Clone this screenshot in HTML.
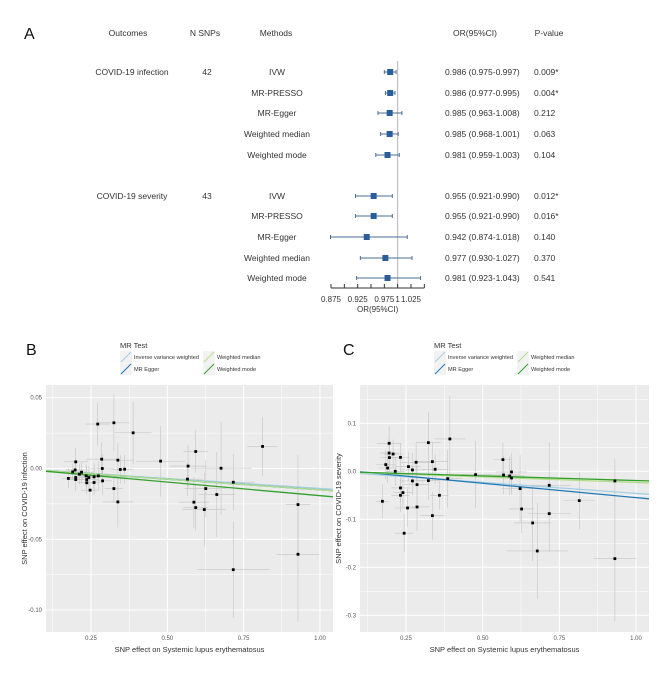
<!DOCTYPE html>
<html><head><meta charset="utf-8">
<style>
body{margin:0;background:#fff;}
svg{display:block;font-family:"Liberation Sans",Arial,sans-serif;}
</style></head>
<body>
<svg id="fig" width="666" height="676" viewBox="0 0 666 676">
<g id="panelA"></g>
<g id="panelB"></g>
<g id="panelC"></g>
</svg>
<script>
// ---------- Forest plot data ----------
const methods = ["IVW","MR-PRESSO","MR-Egger","Weighted median","Weighted mode"];
const outcomes = ["COVID-19 infection","COVID-19 severity"];
const nsnps = [42,43];
const orInf = [0.986,0.986,0.985,0.985,0.981];
const loInf = [0.975,0.977,0.963,0.968,0.959];
const hiInf = [0.997,0.995,1.008,1.001,1.003];
const pInf = ["0.009*","0.004*","0.212","0.063","0.104"];
const orSev = [0.955,0.955,0.942,0.977,0.981];
const loSev = [0.921,0.921,0.874,0.930,0.923];
const hiSev = [0.990,0.990,1.018,1.027,1.043];
const pSev = ["0.012*","0.016*","0.140","0.370","0.541"];
const forestTicks = [0.875,0.9,0.925,0.95,0.975,1,1.025,1.05];
const forestTickLabels = ["0.875","","0.925","","0.975","1","1.025",""];

// ---------- Scatter B data (infection) ----------
const bx = [0.176,0.19,0.198,0.20,0.20,0.20,0.212,0.219,0.234,0.236,0.236,0.243,0.247,0.26,0.26,0.274,0.272,0.285,0.287,0.288,0.325,0.325,0.338,0.338,0.346,0.36,0.388,0.478,0.566,0.568,0.593,0.587,0.593,0.621,0.626,0.662,0.676,0.716,0.716,0.812,0.928,0.928];
const by = [-0.007,-0.0024,-0.001,0.0047,-0.0064,-0.0078,-0.004,-0.0026,-0.0052,-0.0078,-0.0101,-0.0064,-0.0153,-0.0059,-0.0099,-0.0052,0.0314,0.0066,0.0,-0.0087,0.0323,-0.0142,0.0059,-0.0236,-0.0007,-0.0005,0.0252,0.0052,-0.0075,0.0017,0.012,-0.0238,-0.0276,-0.029,-0.0142,-0.0184,0.0002,-0.0097,-0.0715,0.0156,-0.0255,-0.0606];
const bxe = [0.02,0.04,0.03,0.04,0.03,0.03,0.03,0.04,0.03,0.04,0.03,0.03,0.03,0.04,0.03,0.04,0.04,0.05,0.04,0.03,0.05,0.03,0.05,0.05,0.03,0.03,0.06,0.08,0.05,0.06,0.04,0.05,0.04,0.07,0.07,0.06,0.1,0.07,0.12,0.05,0.04,0.07];
const bye = [0.007,0.006,0.007,0.01,0.008,0.008,0.007,0.007,0.008,0.009,0.008,0.008,0.01,0.01,0.009,0.01,0.015,0.012,0.01,0.01,0.02,0.01,0.012,0.018,0.01,0.01,0.022,0.025,0.012,0.015,0.015,0.018,0.016,0.026,0.02,0.03,0.033,0.02,0.034,0.021,0.035,0.048];
const bSlopes = [-0.0141,-0.0151,-0.0151,-0.0192];
const bIntercepts = [0,0,0,0];
const bYTicks = [0.05,0,-0.05,-0.10];
const bYTickLabels = ["0.05","0.00","-0.05","-0.10"];

// ---------- Scatter C data (severity) ----------
const cx = [0.173,0.184,0.190,0.195,0.195,0.196,0.208,0.215,0.232,0.232,0.232,0.24,0.244,0.255,0.258,0.271,0.271,0.283,0.286,0.286,0.323,0.323,0.336,0.336,0.345,0.359,0.386,0.393,0.477,0.566,0.568,0.588,0.594,0.594,0.622,0.627,0.663,0.678,0.717,0.717,0.815,0.931,0.931];
const cy = [-0.0625,0.0139,0.0069,0.0583,0.038,0.0285,0.036,0.0,0.029,-0.0347,-0.05,-0.0444,-0.129,-0.0764,0.0097,0.0028,-0.0201,0.0188,-0.0278,-0.0743,0.0597,-0.0194,0.0201,-0.0924,0.0042,-0.05,-0.0153,0.0674,-0.0069,0.0243,-0.0076,-0.0097,-0.0014,-0.0139,-0.0361,-0.0785,-0.1076,-0.166,-0.0292,-0.0882,-0.0611,-0.0201,-0.182];
const cxe = [0.02,0.03,0.03,0.04,0.03,0.03,0.03,0.03,0.03,0.03,0.03,0.03,0.03,0.04,0.04,0.04,0.04,0.05,0.04,0.04,0.04,0.04,0.05,0.04,0.04,0.03,0.05,0.05,0.05,0.03,0.05,0.05,0.05,0.05,0.06,0.04,0.06,0.1,0.07,0.07,0.05,0.07,0.07];
const cye = [0.035,0.03,0.03,0.035,0.035,0.03,0.03,0.03,0.03,0.03,0.035,0.03,0.04,0.04,0.03,0.035,0.03,0.04,0.04,0.05,0.065,0.04,0.04,0.05,0.03,0.03,0.06,0.09,0.07,0.035,0.04,0.04,0.04,0.035,0.07,0.05,0.08,0.1,0.09,0.08,0.06,0.045,0.13];
const cSlopes = [-0.046,-0.0598,-0.0233,-0.0192];
const cIntercepts = [0,0.005,0,0];
const cYTicks = [0.1,0,-0.1,-0.2,-0.3];
const cYTickLabels = ["0.1","0.0","-0.1","-0.2","-0.3"];

const xTicks = [0.25,0.5,0.75,1.0];
const xTickLabels = ["0.25","0.50","0.75","1.00"];
const lineColors = ["#a6cee3","#1f78b4","#b2df8a","#33a02c"];
const legendLabels = ["Inverse variance weighted","MR Egger","Weighted median","Weighted mode"];

const NS="http://www.w3.org/2000/svg";
function mk(parent,tag,attrs,text){const e=document.createElementNS(NS,tag);for(const k in attrs)e.setAttribute(k,attrs[k]);if(text!==undefined)e.textContent=text;parent.appendChild(e);return e;}

// ---------- Panel A ----------
const A=document.getElementById('panelA');
const xF=v=>331+(v-0.875)*533.3;
let t;
t=mk(A,'text',{x:24,y:39,'font-size':16,fill:'#111'},'A');


const heads=[["Outcomes",128],["N SNPs",205],["Methods",276],["OR(95%CI)",475],["P-value",549]];
heads.forEach(h=>{t=mk(A,'text',{x:h[1],y:36,'font-size':8.5,'text-anchor':'middle',fill:'#333'},h[0]);

});
const rowY=[[72,93,113,134,155],[196,216,237,258,278]];
const groups=[[orInf,loInf,hiInf,pInf],[orSev,loSev,hiSev,pSev]];
t=mk(A,'line',{x1:xF(1),y1:61,x2:xF(1),y2:288,stroke:'#b5b5b5','stroke-width':1});


for(let g=0;g<2;g++){
  const ys=rowY[g];
  t=mk(A,'text',{x:132,y:ys[0]+3,'font-size':8.5,'text-anchor':'middle',fill:'#333'},outcomes[g]);
  
  
  t=mk(A,'text',{x:207,y:ys[0]+3,'font-size':8.5,'text-anchor':'middle',fill:'#333'},String(nsnps[g]));
  
  
  const [or,lo,hi,p]=groups[g];
  for(let i=0;i<5;i++){
    const y=ys[i];
    t=mk(A,'text',{x:277,y:y+3,'font-size':8.5,'text-anchor':'middle',fill:'#333'},methods[i]);
    
    
    t=mk(A,'line',{x1:xF(lo[i]),x2:xF(hi[i]),y1:y,y2:y,stroke:'#4a6f96','stroke-width':1});
    
    
    [lo[i],hi[i]].forEach(v=>{t=mk(A,'line',{x1:xF(v),x2:xF(v),y1:y-2,y2:y+2,stroke:'#4a6f96','stroke-width':1});
      
      });
    t=mk(A,'rect',{x:xF(or[i])-3,y:y-3,width:6,height:6,fill:'#2b5d9b'});
    
    
    t=mk(A,'text',{x:445,y:y+3,'font-size':8.5,fill:'#333'},or[i].toFixed(3)+" ("+lo[i].toFixed(3)+"-"+hi[i].toFixed(3)+")");
    
    
    t=mk(A,'text',{x:534,y:y+3,'font-size':8.5,fill:'#333'},p[i]);
    
    
  }
}
t=mk(A,'line',{x1:xF(0.875),x2:xF(1.05),y1:288,y2:288,stroke:'#333','stroke-width':1});


forestTicks.forEach((v,i)=>{
  t=mk(A,'line',{x1:xF(v),x2:xF(v),y1:284,y2:288,stroke:'#333','stroke-width':1});
  
  
  if(forestTickLabels[i]){t=mk(A,'text',{x:xF(v),y:302,'font-size':8,'text-anchor':'middle',fill:'#333'},forestTickLabels[i]);
  
  }
});
t=mk(A,'text',{x:xF(0.9625),y:312,'font-size':8,'text-anchor':'middle',fill:'#333'},'OR(95%CI)');



// ---------- Scatter panels ----------
function scatter(G,id,letter,lx,px0,px1,xs,ys,xe,ye,slopes,ints,yT,yTL,yTitle,xToPx,yToPx,xv0,xv1){
  const py0=385,py1=632;
  t=mk(G,'text',{x:lx,y:355,'font-size':16,fill:'#111'},letter);
  
  
  const lg=mk(G,'g',{});
  
  
  const lx0=px0+74;
  mk(lg,'text',{x:lx0,y:348,'font-size':7.5,fill:'#333'},'MR Test');
  for(let i=0;i<4;i++){
    const cxp=lx0+(i<2?0:83), cyp=351+(i%2)*12;
    mk(lg,'rect',{x:cxp,y:cyp,width:12,height:12,fill:'#f2f2f2'});
    t=mk(lg,'line',{x1:cxp+1,y1:cyp+11,x2:cxp+11,y2:cyp+1,stroke:lineColors[i],'stroke-width':1});
    
    
    t=mk(lg,'text',{x:cxp+14,y:cyp+8,'font-size':5.6,fill:'#333'},legendLabels[i]);
    
    
  }
  t=mk(G,'rect',{x:px0,y:py0,width:px1-px0,height:py1-py0,fill:'#ebebeb'});
  
  
  for(let v=0.125;v<=1.05;v+=0.125){
    const major=Math.abs(v/0.25-Math.round(v/0.25))<1e-6;
    t=mk(G,'line',{x1:xToPx(v),x2:xToPx(v),y1:py0,y2:py1,stroke:'#fff','stroke-width':major?1:0.5});
    
    
  }
  const step=yT[0]-yT[1];
  for(let v=yT[yT.length-1]-step/2;v<=yT[0]+step/2+1e-9;v+=step/2){
    const yy=yToPx(v); if(yy<py0||yy>py1) continue;
    t=mk(G,'line',{x1:px0,x2:px1,y1:yy,y2:yy,stroke:'#fff','stroke-width':0.5});
    
    
  }
  yT.forEach((v,i)=>{
    t=mk(G,'line',{x1:px0,x2:px1,y1:yToPx(v),y2:yToPx(v),stroke:'#fff','stroke-width':1});
    
    
    t=mk(G,'text',{x:px0-4,y:yToPx(v)+2,'font-size':6,'text-anchor':'end',fill:'#555'},yTL[i]);
    
    
  });
  xTicks.forEach((v,i)=>{
    t=mk(G,'text',{x:xToPx(v),y:640,'font-size':6,'text-anchor':'middle',fill:'#555'},xTickLabels[i]);
    
    
  });
  const clip=mk(G,'clipPath',{id:'clip'+id});
  mk(clip,'rect',{x:px0,y:py0,width:px1-px0,height:py1-py0});
  const pg=mk(G,'g',{'clip-path':'url(#clip'+id+')'});
  for(let i=0;i<xs.length;i++){
    t=mk(pg,'line',{x1:xToPx(xs[i]-xe[i]),x2:xToPx(xs[i]+xe[i]),y1:yToPx(ys[i]),y2:yToPx(ys[i]),stroke:'#c4c4c4','stroke-width':0.6});
    
    
    t=mk(pg,'line',{x1:xToPx(xs[i]),x2:xToPx(xs[i]),y1:yToPx(ys[i]-ye[i]),y2:yToPx(ys[i]+ye[i]),stroke:'#c4c4c4','stroke-width':0.6});
    
    
  }
  for(let k=0;k<4;k++){
    t=mk(pg,'line',{x1:xToPx(xv0),y1:yToPx(ints[k]+slopes[k]*xv0),x2:xToPx(xv1),y2:yToPx(ints[k]+slopes[k]*xv1),stroke:lineColors[k],'stroke-width':1.3});
    
    
  }
  for(let i=0;i<xs.length;i++){
    t=mk(pg,'rect',{x:xToPx(xs[i])-1.4,y:yToPx(ys[i])-1.4,width:2.8,height:2.8,fill:'#000'});
    
    
  }
  t=mk(G,'text',{x:(px0+px1)/2,y:652,'font-size':7.5,'text-anchor':'middle',fill:'#333'},'SNP effect on Systemic lupus erythematosus');
  
  
  const tx=px0-19, ty=(py0+py1)/2;
  t=mk(G,'text',{x:tx,y:ty,'font-size':7.5,'text-anchor':'middle',fill:'#333',transform:'rotate(-90 '+tx+' '+ty+')'},yTitle);
  
  
}
const xB=v=>91+(v-0.25)*305.3, yB=v=>468.5-v*1415.3;
const xC=v=>406+(v-0.25)*306.7, yC=v=>471.3-v*480;
scatter(document.getElementById('panelB'),'B','B',26,46,333,bx,by,bxe,bye,bSlopes,bIntercepts,bYTicks,bYTickLabels,'SNP effect on COVID-19 infection',xB,yB,0.1,1.05);
scatter(document.getElementById('panelC'),'C','C',343,360,649,cx,cy,cxe,cye,cSlopes,cIntercepts,cYTicks,cYTickLabels,'SNP effect on COVID-19 severity',xC,yC,0.1,1.05);
</script>
</body></html>
